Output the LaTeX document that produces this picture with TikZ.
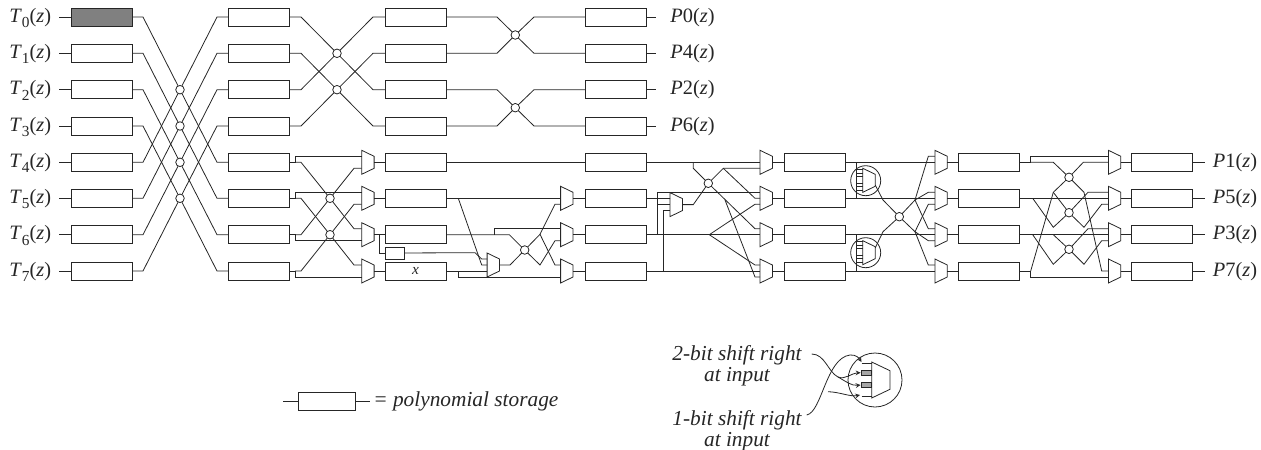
\documentclass[tikz,border=0pt]{standalone}
\usepackage{fontspec}
\setmainfont{Liberation Serif}
\usetikzlibrary{calc, positioning}
\newcommand{\muxnode}[2]{%
\node[muxbox] (#1) at (#2) {};
\draw (#1.north west) -- ($(#1.east)+(0,-6)$) -- ($(#1.east)+(0,6)$) -- (#1.south west) -- cycle;
\coordinate (#1a) at ($(#1.west)+(0,-6)$);
\coordinate (#1b) at ($(#1.west)+(0,6)$);}
\newcommand{\tlab}[1]{\textit{T}\raisebox{-.55ex}{\fontsize{11.5}{12}\selectfont #1}(\textit{z})}
\newcommand{\plab}[1]{\textit{P}#1(\textit{z})}
\begin{document}
\begin{tikzpicture}[x=.75pt, y=-.75pt, line width=.6pt, color=black!85,
stor/.style={draw, rectangle, minimum width=45.75pt, minimum height=13.5pt, inner sep=0pt, outer sep=0pt},
xo/.style={draw, circle, minimum size=6.4pt, inner sep=0pt, outer sep=0pt},
muxbox/.style={rectangle, minimum width=9.3pt, minimum height=18pt, inner sep=0pt, outer sep=0pt},
lbl/.style={font=\fontsize{15.3}{18}\selectfont, text height=11pt, text depth=3.2pt, inner ysep=0pt, inner xsep=5.6pt},
note/.style={font=\fontsize{16}{15.5}\selectfont\itshape, align=center, inner sep=0pt}]
\useasboundingbox (0,0) rectangle (1261,450);

\node[lbl, anchor=east] (t0) at (59,17) {\tlab{0}};
\node[lbl, anchor=east] (t1) at (59,53.3) {\tlab{1}};
\node[lbl, anchor=east] (t2) at (59,89.7) {\tlab{2}};
\node[lbl, anchor=east] (t3) at (59,126) {\tlab{3}};
\node[lbl, anchor=east] (t4) at (59,162.3) {\tlab{4}};
\node[lbl, anchor=east] (t5) at (59,198.3) {\tlab{5}};
\node[lbl, anchor=east] (t6) at (59,234.7) {\tlab{6}};
\node[lbl, anchor=east] (t7) at (59,271) {\tlab{7}};

\node[stor, fill=black!50] (a0) at (101.5,17) {};
\node[stor] (a1) at (101.5,53.3) {};
\node[stor] (a2) at (101.5,89.7) {};
\node[stor] (a3) at (101.5,126) {};
\node[stor] (a4) at (101.5,162.3) {};
\node[stor] (a5) at (101.5,198.3) {};
\node[stor] (a6) at (101.5,234.7) {};
\node[stor] (a7) at (101.5,271) {};

\node[stor] (b0) at (258.5,17) {};
\node[stor] (b1) at (258.5,53.3) {};
\node[stor] (b2) at (258.5,89.7) {};
\node[stor] (b3) at (258.5,126) {};
\node[stor] (b4) at (258.5,162.3) {};
\node[stor] (b5) at (258.5,198.3) {};
\node[stor] (b6) at (258.5,234.7) {};
\node[stor] (b7) at (258.5,271) {};

\node[stor] (c0) at (415.5,17) {};
\node[stor] (c1) at (415.5,53.3) {};
\node[stor] (c2) at (415.5,89.7) {};
\node[stor] (c3) at (415.5,126) {};
\node[stor] (c4) at (415.5,162.3) {};
\node[stor] (c5) at (415.5,198.3) {};
\node[stor] (c6) at (415.5,234.7) {};
\node[stor, font=\fontsize{11.5}{12}\selectfont] (c7) at (415.5,271) {\textit{x}};
\node[draw, rectangle, minimum width=14.25pt, minimum height=9pt, inner sep=0pt, outer sep=0pt] (dly) at (394.5,253) {};

\node[stor] (d0) at (615.5,17) {};
\node[stor] (d1) at (615.5,53.3) {};
\node[stor] (d2) at (615.5,89.7) {};
\node[stor] (d3) at (615.5,126) {};
\node[stor] (d4) at (615.5,162.3) {};
\node[stor] (d5) at (615.5,198.3) {};
\node[stor] (d6) at (615.5,234.7) {};
\node[stor] (d7) at (615.5,271) {};

\node[stor] (e4) at (814.5,162.3) {};
\node[stor] (e5) at (814.5,198.3) {};
\node[stor] (e6) at (814.5,234.7) {};
\node[stor] (e7) at (814.5,271) {};

\node[stor] (f4) at (988.5,162.3) {};
\node[stor] (f5) at (988.5,198.3) {};
\node[stor] (f6) at (988.5,234.7) {};
\node[stor] (f7) at (988.5,271) {};

\node[stor] (g4) at (1161.5,162.3) {};
\node[stor] (g5) at (1161.5,198.3) {};
\node[stor] (g6) at (1161.5,234.7) {};
\node[stor] (g7) at (1161.5,271) {};

\node[lbl, anchor=west, inner xsep=10.5pt] (p0) at (656,17) {\plab{0}};
\node[lbl, anchor=west, inner xsep=10.5pt] (p4) at (656,53.3) {\plab{4}};
\node[lbl, anchor=west, inner xsep=10.5pt] (p2) at (656,89.7) {\plab{2}};
\node[lbl, anchor=west, inner xsep=10.5pt] (p6) at (656,126) {\plab{6}};
\node[lbl, anchor=west] (p1) at (1205,162.3) {\plab{1}};
\node[lbl, anchor=west] (p5) at (1205,198.3) {\plab{5}};
\node[lbl, anchor=west] (p3) at (1205,234.7) {\plab{3}};
\node[lbl, anchor=west] (p7) at (1205,271) {\plab{7}};

\node[xo] (x2) at (180,89.7) {};
\node[xo] (x3) at (180,126) {};
\node[xo] (x4) at (180,162.3) {};
\node[xo] (x5) at (180,198.3) {};
\node[xo] (h1) at (337,53.3) {};
\node[xo] (h2) at (337,89.7) {};
\node[xo] (j1) at (515.3,35) {};
\node[xo] (j2) at (515.3,107.7) {};
\node[xo] (k1) at (330,198.3) {};
\node[xo] (k2) at (330,234.7) {};
\node[xo] (w) at (524.7,250) {};
\node[xo] (y1) at (708.3,183.3) {};
\node[xo] (o1) at (899.3,216.7) {};
\node[xo] (o2) at (1069,177.3) {};
\node[xo] (o3) at (1069,212.7) {};
\node[xo] (o4) at (1069,249.3) {};

\muxnode{m4}{367.9,162.3}
\muxnode{m5}{367.9,198.3}
\muxnode{m6}{367.9,234.7}
\muxnode{m7}{367.9,271}
\muxnode{q}{493.3,265}
\muxnode{r5}{566.8,198.3}
\muxnode{r6}{566.8,234.7}
\muxnode{r7}{566.8,271}
\muxnode{sm}{676.2,204.6}
\muxnode{s4}{766.2,162.3}
\muxnode{s5}{766.2,198.3}
\muxnode{s6}{766.2,234.7}
\muxnode{s7}{766.2,271}
\muxnode{z1}{869,180.3}
\muxnode{z2}{869,252.7}
\muxnode{u4}{941.1,162.3}
\muxnode{u5}{941.1,198.3}
\muxnode{u6}{941.1,234.7}
\muxnode{u7}{941.1,271}
\muxnode{v4}{1114.6,162.3}
\muxnode{v5}{1114.6,198.3}
\muxnode{v6}{1114.6,234.7}
\muxnode{v7}{1114.6,271}

\node[draw, circle, minimum size=22.5pt, inner sep=0pt] (n1) at (865.7,180.7) {};
\node[draw, circle, minimum size=22.5pt, inner sep=0pt] (n2) at (865.7,252.7) {};

\draw (t0) -- (a0);
\draw (t1) -- (a1);
\draw (t2) -- (a2);
\draw (t3) -- (a3);
\draw (t4) -- (a4);
\draw (t5) -- (a5);
\draw (t6) -- (a6);
\draw (t7) -- (a7);

\draw (a0) -- (143,17) -- (x2) -- (217,162.3) -- (b4);
\draw (a1) -- (143,53.3) -- (x3) -- (217,198.3) -- (b5);
\draw (a2) -- (143,89.7) -- (x4) -- (217,234.7) -- (b6);
\draw (a3) -- (143,126) -- (x5) -- (217,271) -- (b7);
\draw (a4) -- (143,162.3) -- (x2) -- (217,17) -- (b0);
\draw (a5) -- (143,198.3) -- (x3) -- (217,53.3) -- (b1);
\draw (a6) -- (143,234.7) -- (x4) -- (217,89.7) -- (b2);
\draw (a7) -- (143,271) -- (x5) -- (217,126) -- (b3);

\draw (b0) -- (301,17) -- (h1) -- (373,89.7) -- (c2);
\draw (b1) -- (301,53.3) -- (h2) -- (373,126) -- (c3);
\draw (b2) -- (301,89.7) -- (h1) -- (373,17) -- (c0);
\draw (b3) -- (301,126) -- (h2) -- (373,53.3) -- (c1);

\draw (c0) -- (497,17) -- (j1) -- (534,53.3) -- (d1);
\draw (c1) -- (497,53.3) -- (j1) -- (534,17) -- (d0);
\draw (c2) -- (497,89.7) -- (j2) -- (534,126) -- (d3);
\draw (c3) -- (497,126) -- (j2) -- (534,89.7) -- (d2);
\draw (d0) -- (p0);
\draw (d1) -- (p4);
\draw (d2) -- (p2);
\draw (d3) -- (p6);

\draw (b4) -- (295,162.3) |- (m4a);
\draw (295,162.3) -- (301,162.3) -- (k1) -- (354,228.7) -- (m6a);
\draw (b6) -- (295,234.7) |- (m6b);
\draw (295,234.7) -- (301,234.7) -- (k1) -- (354,168.3) -- (m4b);
\draw (b5) -- (295,198.3) |- (m5a);
\draw (295,198.3) -- (301,198.3) -- (k2) -- (354,265) -- (m7a);
\draw (b7) -- (295,271) |- (m7b);
\draw (295,271) -- (301,271) -- (k2) -- (354,204.3) -- (m5b);
\draw (m4) -- (c4);
\draw (m5) -- (c5);
\draw (m6) -- (c6);
\draw (m7) -- (c7);
\draw (379.5,234.7) |- (dly);

\draw (c4) -- (d4);
\draw (c5) -- (r5.west);
\draw (458.3,198.3) -- (481.7,265) -- (q.west);
\draw (c6) -- (509.3,234.7) -- (w) -- (540,265) -- (555,240.7) -- (r6b);
\draw (494,234.7) |- (r6a);
\draw (c7) -- (qb);
\draw (458,271) |- (r7b);
\draw (dly) -- (475,252.7) -- (481.7,259) -- (qa);
\draw (q) -- (510,265) -- (w) -- (540,234.3) -- (555,204.3) -- (r5b);
\draw (540,234.3) -- (555,265) -- (r7a);
\draw (r5) -- (d5);
\draw (r6) -- (d6);
\draw (r7) -- (d7);

\draw (d4) -- (s4.west);
\draw (693.3,162.3) -- (693.3,168.3) -- (y1) -- (723.3,168.3) -- (s4b);
\draw (723.3,168.3) -- (755,198.3) -- (s5.west);
\draw (d5) -- (sma);
\draw (d6) -- (s6.west);
\draw (657.3,234.7) -- (657.3,192.3) -- (s5a);
\draw (657.3,204.6) -- (sm.west);
\draw (d7) -- (s7.west);
\draw (663.3,271) |- (smb);
\draw (sm) -- (693.3,204.6) -- (y1) -- (755,228.7) -- (s6a);
\draw (725,200) -- (755,277) -- (s7b);
\draw (709.3,234.7) -- (755,204.3) -- (s5b);
\draw (709.3,234.7) -- (755,265) -- (s7a);
\draw (s4) -- (e4);
\draw (s5) -- (e5);
\draw (s6) -- (e6);
\draw (s7) -- (e7);

\draw (e4) -- (u4.west);
\draw (e5) -- (u5.west);
\draw (e6) -- (u6.west);
\draw (e7) -- (u7.west);
\draw (856,162.3) -- (856,198.3);
\draw (856,234.7) -- (856,271);
\draw (856,169.3) -- (862.8,169.3) (856,173.3) -- (862.8,173.3) (856,176.3) -- (862.8,176.3)
 (856,183.3) -- (862.8,183.3) (856,186.3) -- (862.8,186.3) (856,190.3) -- (862.8,190.3);
\draw (856,241.7) -- (862.8,241.7) (856,245.7) -- (862.8,245.7) (856,248.7) -- (862.8,248.7)
 (856,255.7) -- (862.8,255.7) (856,258.7) -- (862.8,258.7) (856,262.7) -- (862.8,262.7);
\draw (875.2,185) -- (883,200) -- (o1) -- (915,200) -- (928.3,192.3) -- (u5a);
\draw (915,200) -- (928.3,156.3) -- (u4a);
\draw (915,200) -- (928.3,228.7) -- (u6a);
\draw (875.2,248) -- (883,231.7) -- (o1) -- (915,231.7) -- (928.3,240.7) -- (u6b);
\draw (915,231.7) -- (928.3,265) -- (u7a);
\draw (915,231.7) -- (928.3,204.3) -- (u5b);
\draw (u4) -- (f4);
\draw (u5) -- (f5);
\draw (u6) -- (f6);
\draw (u7) -- (f7);

\draw (f4) -- (1030.7,162.3) |- (v4a);
\draw (1030.7,162.3) -- (1053.3,162.3) -- (o2) -- (1083.3,162.3) -- (v4.west);
\draw (f7) -- (1030.7,271) |- (v7b);
\draw (1030.7,271) -- (1053.3,192.3) -- (o2) -- (1084,192.3) -- (1101.7,271) -- (v7.west);
\draw (1053.3,192.3) -- (o3) -- (1088,192.3) -- (v5a);
\draw (f5) -- (v5.west);
\draw (1032.7,198.3) -- (1053.3,227.3) -- (o3) -- (1084,227.3) -- (1101.7,204.3) -- (v5b);
\draw (f6) -- (v6.west);
\draw (1032.7,234.7) -- (1053.3,264.3) -- (o4) -- (1084,264.3) -- (1101.7,240.7) -- (v6b);
\draw (1053.3,234.7) -- (o4) -- (1088,228.7) -- (v6a);
\draw (v4) -- (g4);
\draw (v5) -- (g5);
\draw (v6) -- (g6);
\draw (v7) -- (g7);
\draw (g4) -- (p1);
\draw (g5) -- (p5);
\draw (g6) -- (p3);
\draw (g7) -- (p7);

\node[stor, minimum width=42.75pt] (lg) at (326.5,401) {};
\coordinate (lgl) at (283,401);
\node[note, anchor=west, inner xsep=2.2pt] (lgt) at (370,401) {= polynomial storage};
\draw (lgl) -- (lg);
\draw (lg) -- (lgt);

\node[note] (l2) at (737,365.5) {2-bit shift right\\at input};
\node[note] (l1) at (737,431) {1-bit shift right\\at input};
\node[draw, circle, minimum size=40.5pt, inner sep=0pt] (n3) at (875,380) {};
\draw (871.7,362) -- (890,370.7) -- (890,389.3) -- (871.7,398) -- cycle;
\draw (861.7,363) -- (871.7,363);
\draw (861.7,396) -- (871.7,396);
\draw[fill=black!35] (861.7,370.2) rectangle (871.7,375.2);
\draw[fill=black!35] (861.7,382.5) rectangle (871.7,387.5);
\coordinate (l2e) at (811.7,354);
\coordinate (l1e) at (806.7,415);
\draw (l2e) .. controls (825,354) and (828,372) .. (838,377);
\draw[-stealth] (838,377) .. controls (845,380) and (852,373) .. (860.5,372.7);
\draw[-stealth] (838,377) .. controls (845,381) and (852,386) .. (860.5,385);
\draw[-stealth] (l1e) .. controls (822,412) and (826,358) .. (850,355) .. controls (856,354.5) and (859,358) .. (861.5,362);
\draw[-stealth] (828,391.7) .. controls (840,392) and (850,397) .. (860,395);
\end{tikzpicture}
\end{document}
